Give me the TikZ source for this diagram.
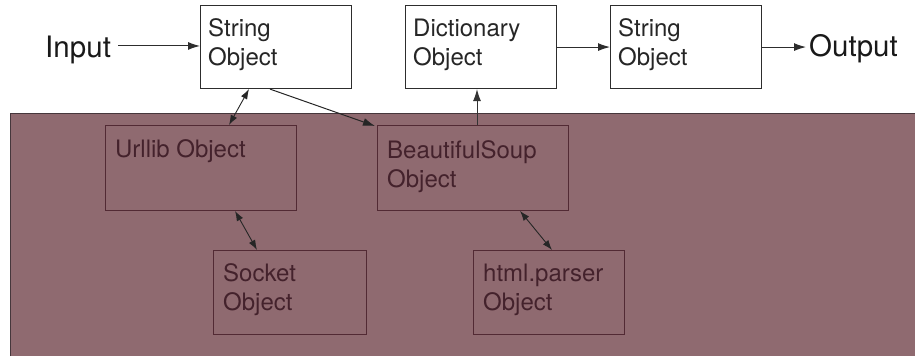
\documentclass[tikz,border=0pt]{standalone}
\usepackage{fontspec}
\setmainfont{TeX Gyre Heros}
\usetikzlibrary{arrows.meta,calc}
\definecolor{bgfill}{RGB}{143,106,112}
\definecolor{bgline}{RGB}{70,55,60}
\definecolor{lowline}{RGB}{82,42,52}
\definecolor{lowtext}{RGB}{68,34,44}
\definecolor{topline}{RGB}{45,45,45}
\tikzset{
  topbox/.style={draw=topline, line width=1.1pt, fill=white, minimum width=151pt, minimum height=83pt, anchor=north west, inner sep=0pt},
  lowbox/.style={draw=lowline, line width=0.9pt, minimum width=#1, minimum height=85pt, anchor=north west, inner sep=0pt},
  lowbox/.default=191pt,
  boxtext/.style={anchor=base west, inner sep=0pt, align=left, font=\fontsize{24}{29}\selectfont},
  bigtext/.style={anchor=base west, inner sep=0pt, font=\fontsize{29.5}{34}\selectfont, text=black!90},
  arr/.style={draw=topline, line width=1pt, -{Latex[length=12pt,width=8pt]}},
  dbl/.style={draw=black!85, line width=0.9pt, {Latex[length=10pt,width=7pt]}-{Latex[length=10pt,width=7pt]}},
}
\begin{document}
\begin{tikzpicture}[x=1pt,y=-1pt]
\useasboundingbox (0,0) rectangle (915,359);
% background region
\fill[bgfill] (10,113) rectangle (916,356);
\draw[bgline, line width=1pt] (10,356) -- (10,113) -- (916,113);
% top boxes
\node[topbox] (s1) at (200,5) {};
\node[boxtext, text=black!85] (s1t) at (208,65) {String\\Object};
\node[topbox] (d) at (405,5) {};
\node[boxtext, text=black!85] (dt) at (413,65) {Dictionary\\Object};
\node[topbox] (s2) at (610,5) {};
\node[boxtext, text=black!85] (s2t) at (618,65) {String\\Object};
% lower boxes
\node[lowbox] (ur) at (105,125) {};
\node[boxtext, text=lowtext] (urt) at (115,157) {Urllib Object};
\node[lowbox] (bs) at (377,125) {};
\node[boxtext, text=lowtext] (bst) at (387,187) {BeautifulSoup\\Object};
\node[lowbox=153pt, minimum height=84pt] (so) at (213,250) {};
\node[boxtext, text=lowtext] (sot) at (223,310) {Socket\\Object};
\node[lowbox=151pt, minimum height=84pt] (hp) at (473,250) {};
\node[boxtext, text=lowtext] (hpt) at (483,310) {html.parser\\Object};
% input / output
\node[bigtext] (in) at (45,57) {Input};
\node[bigtext] (out) at (809,56) {Output};
% connectors
\draw[arr] ([xshift=7pt,yshift=3.5pt]in.east) -- ([yshift=3.5pt]in.east -| s1.west);
\draw[arr] (d.east) -- (s2.west);
\draw[arr] (s2.east) -- ([xshift=-3pt]s2.east -| out.west);
\draw[dbl] ([xshift=49pt]s1.south west) -- ([xshift=124pt]ur.north west);
\draw[arr, draw=black!85] ([xshift=70pt]s1.south west) -- ([xshift=-2pt,yshift=-1pt]bs.north west);
\draw[arr, draw=black!80] ([xshift=100pt]bs.north west) -- ([xshift=100pt]bs.north west |- d.south);
\draw[dbl] ([xshift=130pt]ur.south west) -- ([xshift=44pt]so.north west);
\draw[dbl] ([xshift=143pt]bs.south west) -- ([xshift=79pt]hp.north west);
\end{tikzpicture}
\end{document}
